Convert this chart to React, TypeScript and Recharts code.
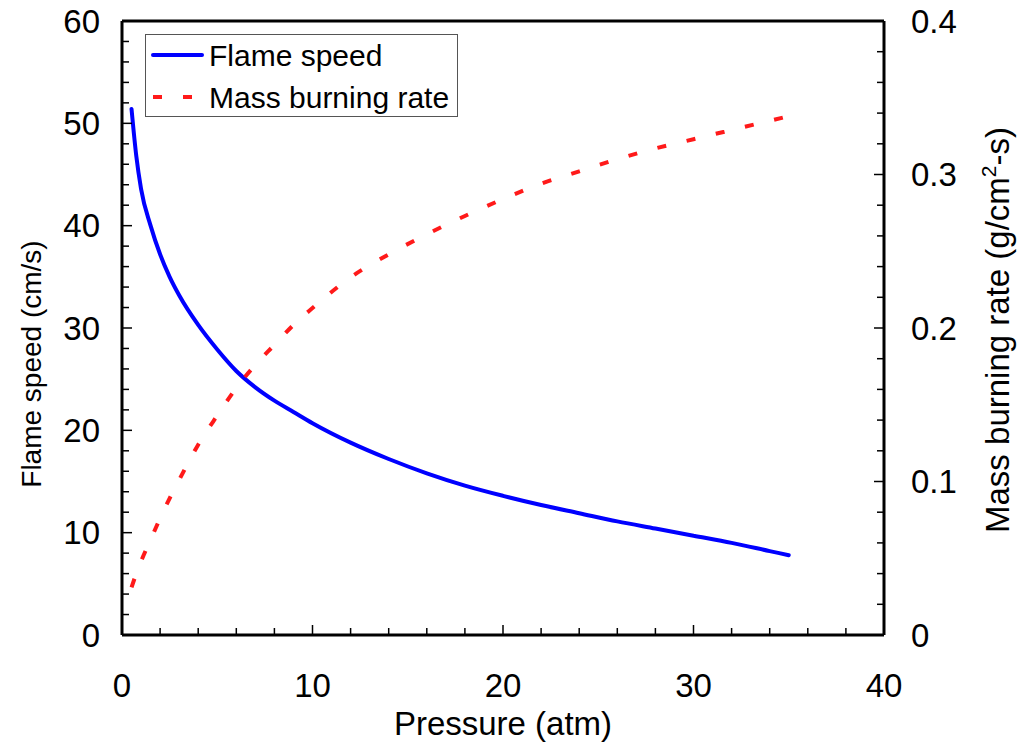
import {
  Label,
  Line,
  LineChart,
  ReferenceLine,
  XAxis,
  YAxis,
} from "recharts";

const pressureAtm = [
  0.5, 0.75, 1, 1.5, 2, 2.5, 3, 4, 5, 6, 7, 8, 9, 10, 12, 14, 16, 18, 20, 22,
  24, 26, 28, 30, 32, 34, 35,
];

const flameSpeed = [
  51.4, 46.8, 43.6, 40.0, 37.2, 35.0, 33.2, 30.3, 27.9, 25.8, 24.2, 22.9, 21.8,
  20.7, 18.8, 17.2, 15.8, 14.6, 13.6, 12.7, 11.9, 11.1, 10.4, 9.7, 9.0, 8.2,
  7.8,
];

const massBurningRate = [
  0.031, 0.04, 0.048, 0.062, 0.076, 0.089, 0.101, 0.124, 0.143, 0.161, 0.176,
  0.189, 0.202, 0.213, 0.233, 0.248, 0.261, 0.273, 0.284, 0.294, 0.302, 0.31,
  0.317, 0.323, 0.329, 0.335, 0.338,
];

const pressureTicks = [
  0, 2, 4, 6, 8, 10, 12, 14, 16, 18, 20, 22, 24, 26, 28, 30, 32, 34, 36, 38, 40,
];

const speedTicks = [
  0, 2, 4, 6, 8, 10, 12, 14, 16, 18, 20, 22, 24, 26, 28, 30, 32, 34, 36, 38, 40,
  42, 44, 46, 48, 50, 52, 54, 56, 58, 60,
];

const rateTicks = [
  0, 0.02, 0.04, 0.06, 0.08, 0.1, 0.12, 0.14, 0.16, 0.18, 0.2, 0.22, 0.24, 0.26,
  0.28, 0.3, 0.32, 0.34, 0.36, 0.38, 0.4,
];

const chartData = pressureAtm.map((p, i) => ({
  pressure: p,
  flame: flameSpeed[i],
  mass: massBurningRate[i],
}));

const FONT = "'Liberation Sans', Arial, sans-serif";
const TICK_FONT = 33;
const TITLE_FONT = 33;
const MAJOR = 10;
const MINOR = 7;

function isMajor(value: number, step: number) {
  const r = value / step;
  return Math.abs(r - Math.round(r)) < 1e-9;
}

function BottomTick({ x, y, payload }: any) {
  const major = isMajor(payload.value, 10);
  return (
    <g>
      <line
        x1={x}
        x2={x}
        y1={y}
        y2={y - (major ? MAJOR : MINOR)}
        stroke="#000"
        strokeWidth={1.5}
      />
      {major && (
        <text
          x={x}
          y={y + 62}
          textAnchor="middle"
          fontFamily={FONT}
          fontSize={TICK_FONT}
          fill="#000"
        >
          {payload.value}
        </text>
      )}
    </g>
  );
}

function LeftTick({ x, y, payload }: any) {
  const major = isMajor(payload.value, 10);
  return (
    <g>
      <line
        x1={x}
        x2={x + (major ? MAJOR : MINOR)}
        y1={y}
        y2={y}
        stroke="#000"
        strokeWidth={1.5}
      />
      {major && (
        <text
          x={x - 22}
          y={y + 11.8}
          textAnchor="end"
          fontFamily={FONT}
          fontSize={TICK_FONT}
          fill="#000"
        >
          {payload.value}
        </text>
      )}
    </g>
  );
}

function RightTick({ x, y, payload }: any) {
  const major = isMajor(payload.value, 0.1);
  return (
    <g>
      <line
        x1={x}
        x2={x - (major ? MAJOR : MINOR)}
        y1={y}
        y2={y}
        stroke="#000"
        strokeWidth={1.5}
      />
      {major && (
        <text
          x={x + 27}
          y={y + 11.8}
          textAnchor="start"
          fontFamily={FONT}
          fontSize={TICK_FONT}
          fill="#000"
        >
          {String(Math.round(payload.value * 10) / 10)}
        </text>
      )}
    </g>
  );
}

function LegendBox() {
  return (
    <svg width={313} height={83} style={{ display: "block" }}>
      <rect
        x={0.5}
        y={0.5}
        width={312}
        height={82}
        fill="#fff"
        stroke="#555"
        strokeWidth={1}
      />
      <line
        x1={8}
        x2={57}
        y1={21}
        y2={21}
        stroke="#0000ff"
        strokeWidth={4}
        strokeLinecap="round"
      />
      <text x={64} y={31.5} fontFamily={FONT} fontSize={30} fill="#000">
        Flame speed
      </text>
      <line
        x1={8}
        x2={57}
        y1={63}
        y2={63}
        stroke="#ff1a1a"
        strokeWidth={4}
        strokeDasharray="9 21"
      />
      <text x={64} y={73.5} fontFamily={FONT} fontSize={30} fill="#000">
        Mass burning rate
      </text>
    </svg>
  );
}

export default function App() {
  return (
    <div
      style={{
        position: "absolute",
        left: 0,
        top: 0,
        width: 1020,
        height: 748,
        background: "#fff",
      }}
    >
      <LineChart
        width={1020}
        height={748}
        data={chartData}
        margin={{ top: 21, right: 0, bottom: 0, left: 0 }}
      >
        <XAxis
          dataKey="pressure"
          type="number"
          domain={[0, 40]}
          ticks={pressureTicks}
          interval={0}
          height={113}
          axisLine={{ stroke: "#000", strokeWidth: 3 }}
          tickLine={false}
          tickSize={0}
          tickMargin={0}
          tick={<BottomTick />}
        >
          <Label
            value="Pressure (atm)"
            position="insideBottom"
            offset={13}
            style={{ fontFamily: FONT, fontSize: TITLE_FONT, fill: "#000" }}
          />
        </XAxis>
        <YAxis
          yAxisId="left"
          orientation="left"
          type="number"
          domain={[0, 60]}
          ticks={speedTicks}
          interval={0}
          width={122}
          axisLine={{ stroke: "#000", strokeWidth: 3 }}
          tickLine={false}
          tickSize={0}
          tickMargin={0}
          tick={<LeftTick />}
        >
          <Label
            content={() => (
              <text
                x={0}
                y={0}
                transform="translate(41 364) rotate(-90)"
                textAnchor="middle"
                fontFamily={FONT}
                fontSize={28}
                fill="#000"
              >
                Flame speed (cm/s)
              </text>
            )}
          />
        </YAxis>
        <YAxis
          yAxisId="right"
          orientation="right"
          type="number"
          domain={[0, 0.4]}
          ticks={rateTicks}
          interval={0}
          width={136}
          axisLine={{ stroke: "#000", strokeWidth: 3 }}
          tickLine={false}
          tickSize={0}
          tickMargin={0}
          tick={<RightTick />}
        >
          <Label
            content={() => (
              <text
                x={0}
                y={0}
                transform="translate(1009 330) rotate(-90)"
                textAnchor="middle"
                fontFamily={FONT}
                fontSize={TITLE_FONT}
                fill="#000"
              >
                Mass burning rate (g/cm
                <tspan fontSize={21} dy={-13}>
                  2
                </tspan>
                <tspan dy={13}>-s)</tspan>
              </text>
            )}
          />
        </YAxis>
        <ReferenceLine
          yAxisId="left"
          y={60}
          stroke="#000"
          strokeWidth={3}
        />
        <Line
          yAxisId="left"
          type="monotone"
          dataKey="flame"
          name="Flame speed"
          stroke="#0000ff"
          strokeWidth={4}
          strokeLinecap="round"
          dot={false}
          isAnimationActive={false}
        />
        <Line
          yAxisId="right"
          type="monotone"
          dataKey="mass"
          name="Mass burning rate"
          stroke="#ff1a1a"
          strokeWidth={4}
          strokeDasharray="9 21"
          dot={false}
          isAnimationActive={false}
        />
      </LineChart>
      <div style={{ position: "absolute", left: 145, top: 34 }}>
        <LegendBox />
      </div>
    </div>
  );
}
